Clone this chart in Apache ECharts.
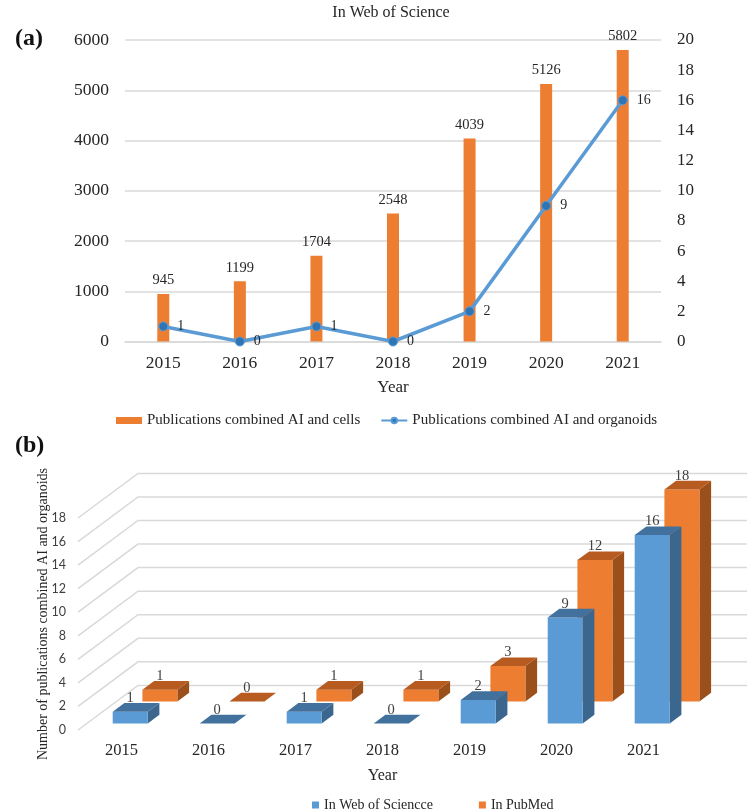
<!DOCTYPE html>
<html>
<head>
<meta charset="utf-8">
<title>AI and organoids publications</title>
<script src="https://cdn.jsdelivr.net/npm/echarts@6/dist/echarts.min.js"></script>
<style>
html, body { margin: 0; padding: 0; background: #fff; }
#chart { width: 749px; height: 812px; }
</style>
</head>
<body>
<div id="chart"></div>
<script>
'use strict';

var years = ['2015', '2016', '2017', '2018', '2019', '2020', '2021'];
var cellsPubs = [945, 1199, 1704, 2548, 4039, 5126, 5802];
var organoidPubs = [1, 0, 1, 0, 2, 9, 16];
var wosCounts = [1, 0, 1, 0, 2, 9, 16];
var pubmedCounts = [1, 0, 1, 1, 3, 12, 18];
var wallTicks = [0, 2, 4, 6, 8, 10, 12, 14, 16, 18];

var SERIF = '"Liberation Serif", "Times New Roman", serif';
var GRID_COLOR = '#d9d9d9';
var TEXT_COLOR = '#262626';

// fake 3D: how far the floor runs back, in pixels
var DEPTH_X = 60;
var DEPTH_Y = -44.6;
var BAR_WIDTH = 35;
var BAR_DEPTH = 0.195;

function wallItem(params, api) {
    var grid = params.coordSys;
    var front = api.coord([0, api.value(1)]);
    var y = front[1];
    var x0 = grid.x;
    var x1 = x0 + DEPTH_X;
    var x2 = x1 + grid.width;
    var y1 = y + DEPTH_Y;
    return {
        type: 'polyline',
        shape: { points: [[x0, y], [x1, y1], [x2, y1]] },
        style: { fill: null, stroke: GRID_COLOR, lineWidth: 1.5 }
    };
}

function makeBarItem(depth, colors) {
    return function (params, api) {
        var value = api.value(1);
        var base = api.coord([api.value(0), 0]);
        var top = api.coord([api.value(0), value]);
        var ox = DEPTH_X * depth;
        var oy = DEPTH_Y * depth;
        var dx = DEPTH_X * BAR_DEPTH;
        var dy = DEPTH_Y * BAR_DEPTH;
        var l = base[0] + ox - BAR_WIDTH / 2;
        var r = l + BAR_WIDTH;
        var by = base[1] + oy;
        var ty = top[1] + oy;
        var children = [];
        if (value > 0) {
            children.push({
                type: 'polygon',
                shape: { points: [[r, by], [r + dx, by + dy], [r + dx, ty + dy], [r, ty]] },
                style: { fill: colors.side }
            });
            children.push({
                type: 'polygon',
                shape: { points: [[l, by], [r, by], [r, ty], [l, ty]] },
                style: { fill: colors.front }
            });
        }
        children.push({
            type: 'polygon',
            shape: { points: [[l, ty], [r, ty], [r + dx, ty + dy], [l + dx, ty + dy]] },
            style: { fill: colors.top }
        });
        children.push({
            type: 'text',
            z2: 10,
            style: {
                text: String(value),
                x: (l + r) / 2,
                y: ty - 13.5,
                textAlign: 'center',
                textVerticalAlign: 'middle',
                fill: '#404040',
                font: '14.5px ' + SERIF
            }
        });
        return { type: 'group', children: children };
    };
}

function pairs(values) {
    return values.map(function (v, i) { return [i, v]; });
}

var wosColors = { front: '#5b9bd5', side: '#3b678f', top: '#41719c' };
var pubmedColors = { front: '#ed7d31', side: '#9b4f1b', top: '#b85b20' };

var option = {
    backgroundColor: '#fff',
    animation: false,
    textStyle: { fontFamily: SERIF },
    title: [
        { text: 'In Web of Science', left: 391, top: 5, textAlign: 'center', padding: 0,
          textStyle: { fontFamily: SERIF, fontSize: 16, fontWeight: 'normal', color: TEXT_COLOR } },
        { text: '(a)', left: 15, top: 27, padding: 0,
          textStyle: { fontFamily: SERIF, fontSize: 24, fontWeight: 'bold', color: '#111' } },
        { text: '(b)', left: 15, top: 434, padding: 0,
          textStyle: { fontFamily: SERIF, fontSize: 24, fontWeight: 'bold', color: '#111' } }
    ],
    legend: [
        {
            left: 116, top: 413, padding: 0, itemGap: 20, itemWidth: 26, itemHeight: 7,
            textStyle: { fontFamily: SERIF, fontSize: 15, color: TEXT_COLOR },
            data: [
                { name: 'Publications combined AI and cells', icon: 'rect' },
                { name: 'Publications combined AI and organoids' }
            ]
        },
        {
            left: 312, top: 798, padding: 0, itemGap: 46, itemWidth: 7, itemHeight: 7,
            icon: 'rect',
            textStyle: { fontFamily: SERIF, fontSize: 14, color: TEXT_COLOR },
            data: ['In Web of Sciencce', 'In PubMed']
        }
    ],
    grid: [
        { left: 125, top: 40, width: 536, height: 301.5 },
        { left: 78, top: 518, width: 609, height: 212 }
    ],
    xAxis: [
        {
            type: 'category', gridIndex: 0, data: years,
            name: 'Year', nameLocation: 'middle', nameGap: 38,
            nameTextStyle: { fontFamily: SERIF, fontSize: 17, color: TEXT_COLOR },
            axisLine: { lineStyle: { color: GRID_COLOR, width: 1.5 } },
            axisTick: { show: false },
            axisLabel: { fontFamily: SERIF, fontSize: 17.5, color: TEXT_COLOR, margin: 13 }
        },
        {
            type: 'category', gridIndex: 1, data: years,
            name: 'Year', nameLocation: 'middle', nameGap: 38,
            nameTextStyle: { fontFamily: SERIF, fontSize: 16, color: TEXT_COLOR },
            axisLine: { show: false },
            axisTick: { show: false },
            axisLabel: { fontFamily: SERIF, fontSize: 16.5, color: TEXT_COLOR, margin: 12 }
        }
    ],
    yAxis: [
        {
            type: 'value', gridIndex: 0, min: 0, max: 6000, interval: 1000,
            axisLine: { show: false },
            axisTick: { show: false },
            axisLabel: {
                fontFamily: SERIF, fontSize: 17.5, color: TEXT_COLOR, margin: 16,
                formatter: function (v) { return String(v); }
            },
            splitLine: { lineStyle: { color: GRID_COLOR, width: 1.5 } }
        },
        {
            type: 'value', gridIndex: 0, position: 'right', min: 0, max: 20, interval: 2,
            axisLine: { show: false },
            axisTick: { show: false },
            axisLabel: { fontFamily: SERIF, fontSize: 17, color: TEXT_COLOR, margin: 16 },
            splitLine: { show: false }
        },
        {
            type: 'value', gridIndex: 1, min: 0, max: 18, interval: 2,
            name: 'Number of publications combined AI and organoids',
            nameLocation: 'middle', nameGap: 28, nameMoveOverlap: false,
            nameTextStyle: { fontFamily: SERIF, fontSize: 14, color: TEXT_COLOR, padding: [0, 0, 0, 20] },
            axisLine: { show: false },
            axisTick: { show: false },
            axisLabel: { fontFamily: 'Lato', fontSize: 12.5, color: '#404040', margin: 12 },
            splitLine: { show: false }
        }
    ],
    series: [
        {
            name: 'Publications combined AI and cells',
            type: 'bar', xAxisIndex: 0, yAxisIndex: 0,
            barWidth: 12,
            itemStyle: { color: '#ed7d31' },
            label: { show: true, position: 'top', distance: 6, fontFamily: SERIF, fontSize: 14.5, color: TEXT_COLOR },
            data: cellsPubs
        },
        {
            name: 'Publications combined AI and organoids',
            type: 'line', xAxisIndex: 0, yAxisIndex: 1,
            symbol: 'circle', symbolSize: 9,
            lineStyle: { color: '#5b9bd5', width: 3.5 },
            itemStyle: { color: '#2e75b6', borderColor: '#5b9bd5', borderWidth: 1 },
            label: { show: true, position: 'right', distance: 9, fontFamily: SERIF, fontSize: 14, color: TEXT_COLOR },
            data: organoidPubs
        },
        {
            name: 'walls', type: 'custom', xAxisIndex: 1, yAxisIndex: 2,
            silent: true, z: 1,
            renderItem: wallItem,
            encode: { x: 0, y: 1 },
            data: wallTicks.map(function (v) { return [0, v]; })
        },
        {
            name: 'In PubMed', type: 'custom', xAxisIndex: 1, yAxisIndex: 2,
            z: 2,
            itemStyle: { color: pubmedColors.front },
            renderItem: makeBarItem(0.64, pubmedColors),
            encode: { x: 0, y: 1 },
            data: pairs(pubmedCounts)
        },
        {
            name: 'In Web of Sciencce', type: 'custom', xAxisIndex: 1, yAxisIndex: 2,
            z: 3,
            itemStyle: { color: wosColors.front },
            renderItem: makeBarItem(0.145, wosColors),
            encode: { x: 0, y: 1 },
            data: pairs(wosCounts)
        }
    ]
};

var myChart = echarts.init(document.getElementById('chart'), null, { renderer: 'canvas' });
myChart.setOption(option);
</script>
</body>
</html>
